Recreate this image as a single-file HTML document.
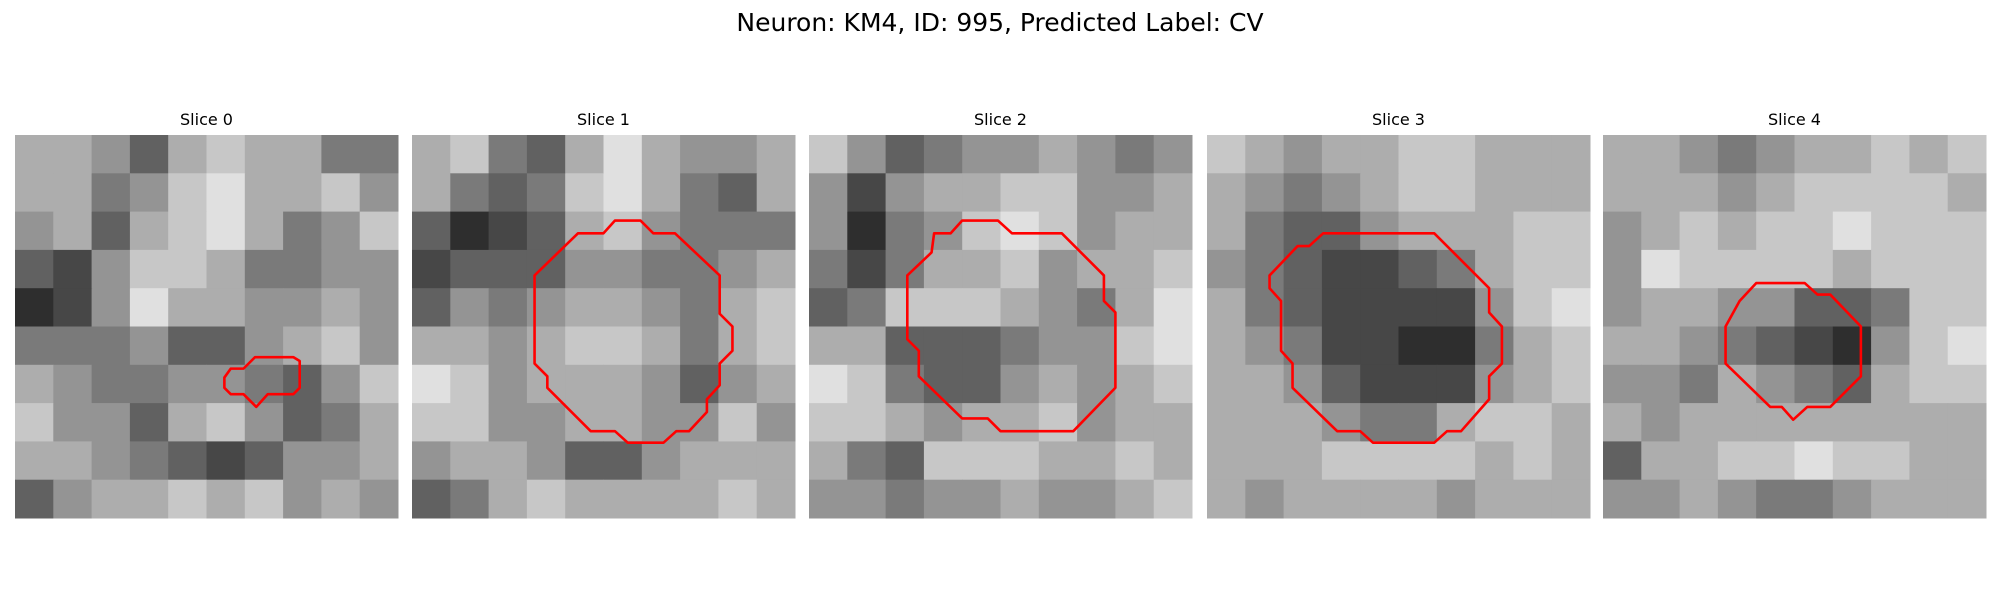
<!DOCTYPE html>
<html><head><meta charset="utf-8"><style>
html,body{margin:0;padding:0;background:#fff;width:2000px;height:600px;overflow:hidden}
svg{display:block}
text{font-family:"DejaVu Sans","Liberation Sans",sans-serif}
</style></head><body>
<svg id="fig" width="2000" height="600" viewBox="0 0 2000 600">
<text x="1000" y="31" text-anchor="middle" font-size="25" fill="#000">Neuron: KM4, ID: 995, Predicted Label: CV</text>
</svg>
<script>
const sliceTitles = ["Slice 0","Slice 1","Slice 2","Slice 3","Slice 4"];
const intensity0 = ["6653676644","6645786675","5636786457","3257764455","1258665565","4445335675","6544554357","7553675346","6654323556","3566767565"];
const intensity1 = ["6743686556","6434786436","3123675444","2333554456","3545665467","6656776467","8756665356","7755665575","5665335666","3467666676"];
const intensity2 = ["7534556545","5256677556","5145787566","4246675667","3477765468","6633345578","8743356567","7765667566","6437776676","5545565567"];
const intensity3 = ["7656677666","6545677666","6433566677","5432234677","6432222578","6542211467","6653222567","6665446776","6667777676","6566665666"];
const intensity4 = ["6654566767","6665677776","5676778777","5877776777","5665533477","6654321578","5546543677","6566666666","3667787766","5565445666"];
const intensities = [intensity0,intensity1,intensity2,intensity3,intensity4];
const contour0 = [[16.4,19.0],[16.9,18.3],[17.9,18.3],[18.8,17.4],[21.8,17.4],[22.3,17.7],[22.3,19.8],[21.8,20.3],[19.8,20.3],[18.9,21.3],[17.9,20.3],[16.9,20.3],[16.4,19.8]];
const contour1 = [[9.6,11],[13,7.7],[15,7.7],[15.9,6.7],[17.9,6.7],[18.9,7.7],[20.6,7.7],[24.1,11],[24.1,14],[25.1,15],[25.1,16.9],[24.1,17.9],[24.1,19.6],[23.1,20.7],[23.1,21.7],[21.7,23.2],[20.7,23.2],[19.7,24.1],[16.9,24.1],[15.9,23.2],[14,23.2],[10.6,19.8],[10.6,18.9],[9.6,17.9]];
const contour2 = [[7.7,11],[9.6,9.2],[9.8,7.7],[11.1,7.7],[12.0,6.7],[14.8,6.7],[15.9,7.7],[19.8,7.7],[23.1,11],[23.1,13],[24.0,13.9],[24.0,19.8],[20.7,23.2],[15.0,23.2],[14.0,22.2],[12.0,22.2],[8.6,18.9],[8.6,16.9],[7.7,16.0]];
const contour3 = [[4.9,11],[7.1,8.7],[8.0,8.7],[9.1,7.7],[17.8,7.7],[22.1,12.0],[22.1,13.9],[23.1,15.0],[23.1,17.9],[22.1,18.9],[22.1,20.7],[19.9,23.2],[18.8,23.2],[17.8,24.1],[13.0,24.1],[12.0,23.2],[10.2,23.2],[6.7,19.8],[6.7,17.9],[5.8,16.9],[5.8,13.0],[4.9,12.0]];
const contour4 = [[10.7,13],[12.0,11.6],[15.8,11.6],[16.8,12.5],[17.8,12.5],[20.2,15.0],[20.2,18.9],[17.8,21.3],[16.0,21.3],[14.9,22.3],[14.0,21.3],[13.1,21.3],[9.6,17.9],[9.6,15.0]];
const contours = [contour0,contour1,contour2,contour3,contour4];

const NS="http://www.w3.org/2000/svg";
const svg=document.getElementById('fig');
const panelX=[15,412,809,1207,1603], panelY=135, panelS=383, grid=30;
function gx(p,v){return panelX[p]+v*panelS/grid;}
function gy(v){return panelY+v*panelS/grid;}
function gray(d){const g=Math.round(20+d/9*230);return `rgb(${g},${g},${g})`;}
sliceTitles.forEach((t,p)=>{
  const g=document.createElementNS(NS,'g');
  
  
  svg.appendChild(g);
  const tt=document.createElementNS(NS,'text');
  tt.setAttribute('x',panelX[p]+panelS/2);tt.setAttribute('y',125);
  tt.setAttribute('text-anchor','middle');tt.setAttribute('font-size','16');
  tt.textContent=t;
  
  
  g.appendChild(tt);
  const rows=intensities[p], n=rows.length, step=grid/n;
  rows.forEach((row,r)=>{
    row.split('').forEach((ch,c)=>{
      const rc=document.createElementNS(NS,'rect');
      rc.setAttribute('x',gx(p,c*step));rc.setAttribute('y',gy(r*step));
      rc.setAttribute('width',panelS/n+0.5);rc.setAttribute('height',panelS/n+0.5);
      rc.setAttribute('fill',gray(+ch));
      
      
      g.appendChild(rc);
    });
  });
  const pl=document.createElementNS(NS,'polygon');
  pl.setAttribute('points',contours[p].map(q=>gx(p,q[0])+','+gy(q[1])).join(' '));
  pl.setAttribute('fill','none');pl.setAttribute('stroke','#f00');pl.setAttribute('stroke-width','2.6');
  pl.setAttribute('stroke-linejoin','round');
  
  
  g.appendChild(pl);
});
</script>
</body></html>
